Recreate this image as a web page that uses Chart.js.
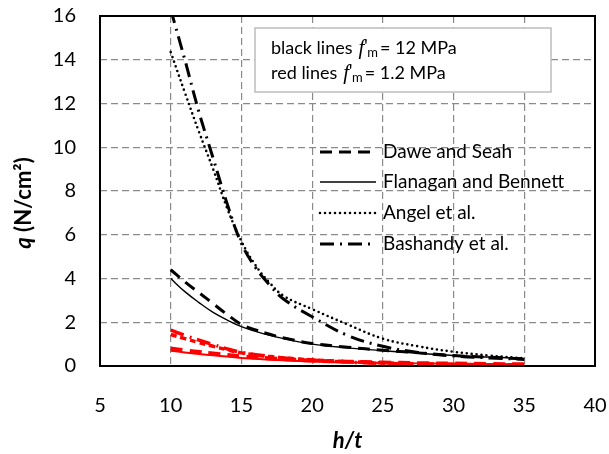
<!DOCTYPE html>
<html>
<head>
<meta charset="utf-8">
<script src="https://cdn.jsdelivr.net/npm/chart.js@4/dist/chart.umd.min.js"></script>
<style>
  html, body { margin: 0; padding: 0; background: #fff; }
  #wrap { width: 609px; height: 454px; }
</style>
</head>
<body>
<div id="wrap"><canvas id="chart" width="609" height="454"></canvas></div>
<script>
// h/t values where the curves were read
const xs = [10, 11, 12, 13, 14, 15, 16, 17, 18, 20, 22.5, 25, 27.5, 30, 32.5, 35];

// black lines, f'm = 12 MPa
const daweBlack      = [4.4, 3.85, 3.35, 2.85, 2.35, 1.9, 1.65, 1.45, 1.28, 1.03, 0.86, 0.72, 0.6, 0.48, 0.4, 0.33];
const flanaganBlack  = [4.0, 3.4, 2.9, 2.45, 2.1, 1.8, 1.58, 1.4, 1.25, 1.0, 0.83, 0.7, 0.58, 0.48, 0.41, 0.35];
const angelBlack     = [14.35, 12.5, 10.7, 9.0, 7.2, 5.7, 4.6, 3.8, 3.2, 2.6, 1.9, 1.25, 0.9, 0.65, 0.48, 0.35];
const bashandyBlack  = [16.3, 14.0, 11.6, 9.5, 7.4, 5.6, 4.5, 3.7, 3.05, 2.25, 1.4, 0.9, 0.62, 0.46, 0.37, 0.3];

// red lines, f'm = 1.2 MPa
const daweRed        = [0.8, 0.72, 0.64, 0.57, 0.5, 0.44, 0.39, 0.35, 0.31, 0.25, 0.2, 0.16, 0.13, 0.11, 0.09, 0.08];
const flanaganRed    = [0.7, 0.62, 0.55, 0.49, 0.43, 0.37, 0.33, 0.29, 0.26, 0.21, 0.17, 0.14, 0.12, 0.1, 0.08, 0.07];
const angelRed       = [1.44, 1.25, 1.07, 0.9, 0.74, 0.6, 0.5, 0.43, 0.37, 0.28, 0.2, 0.14, 0.1, 0.08, 0.06, 0.05];
const bashandyRed    = [1.64, 1.4, 1.18, 0.98, 0.78, 0.62, 0.52, 0.44, 0.37, 0.27, 0.18, 0.12, 0.09, 0.07, 0.05, 0.04];

const xTicks = [5, 10, 15, 20, 25, 30, 35, 40];
const yTicks = [0, 2, 4, 6, 8, 10, 12, 14, 16];

const legendNames = ["Dawe and Seah", "Flanagan and Bennett", "Angel et al.", "Bashandy et al."];
const boxLines = ["black lines", "red lines"];
const boxValues = ["= 12 MPa", "= 1.2 MPa"];

const FONT = "Lato, 'Open Sans', sans-serif";

const styles = {
    dawe:     { dash: [12, 7], width: 3, cap: "butt" },
    flanagan: { dash: [], width: 1.4, cap: "butt" },
    angel:    { dash: [0, 5], width: 2.6, cap: "round" },
    bashandy: { dash: [14, 6, 2, 6], width: 3, cap: "butt" }
};

function pts(arr) {
    return arr.map((y, i) => ({ x: xs[i], y }));
}

function ds(label, arr, color, st, width) {
    return {
        label,
        data: pts(arr),
        borderColor: color,
        borderWidth: width ?? st.width,
        borderDash: st.dash,
        borderCapStyle: st.cap,
        pointRadius: 0,
        tension: 0.4,
        fill: false,
        clip: 0
    };
}

const datasets = [
    ds("Dawe and Seah red", daweRed, "#ff0000", styles.dawe, 4),
    ds("Flanagan and Bennett red", flanaganRed, "#ff0000", styles.flanagan, 2),
    ds("Angel et al. red", angelRed, "#ff0000", { dash: [6, 4], width: 3.5, cap: "butt" }),
    ds("Bashandy et al. red", bashandyRed, "#ff0000", styles.bashandy, 3.5),
    ds("Dawe and Seah", daweBlack, "#000", styles.dawe),
    ds("Flanagan and Bennett", flanaganBlack, "#000", styles.flanagan),
    ds("Angel et al.", angelBlack, "#000", styles.angel),
    ds("Bashandy et al.", bashandyBlack, "#000", styles.bashandy)
];

const decor = {
    id: "decor",
    afterDraw(chart) {
        const ctx = chart.ctx;
        const a = chart.chartArea;
        ctx.save();

        // plot frame
        ctx.strokeStyle = "#000";
        ctx.lineWidth = 2;
        ctx.setLineDash([]);
        ctx.strokeRect(a.left, a.top, a.right - a.left, a.bottom - a.top);

        // info box
        ctx.fillStyle = "#fff";
        ctx.fillRect(255, 28, 296, 64);
        ctx.strokeStyle = "#bdbdbd";
        ctx.lineWidth = 1.5;
        ctx.strokeRect(255, 28, 296, 64);
        ctx.fillStyle = "#000";
        ctx.textBaseline = "middle";
        ctx.textAlign = "left";
        [48, 73].forEach((y, i) => {
            let x = 271;
            ctx.font = "18px " + FONT;
            ctx.fillText(boxLines[i], x, y);
            x += ctx.measureText(boxLines[i]).width + 6;
            ctx.font = "italic 21px 'Liberation Serif', serif";
            ctx.fillText("f", x, y);
            x += ctx.measureText("f").width;
            ctx.font = "16px " + FONT;
            ctx.fillText("'", x, y - 2);
            x += 3;
            ctx.font = "13px " + FONT;
            ctx.fillText("m", x, y + 5);
            x += ctx.measureText("m").width + 2;
            ctx.font = "18px " + FONT;
            ctx.fillText(boxValues[i], x, y);
        });

        // legend
        const rows = [152, 182, 213, 244];
        const keys = ["dawe", "flanagan", "angel", "bashandy"];
        rows.forEach((y, i) => {
            const st = styles[keys[i]];
            ctx.strokeStyle = "#000";
            ctx.lineWidth = st.width;
            ctx.lineCap = st.cap;
            ctx.setLineDash(st.dash);
            ctx.beginPath();
            ctx.moveTo(320, y);
            ctx.lineTo(376, y);
            ctx.stroke();
            ctx.setLineDash([]);
            ctx.lineCap = "butt";
            ctx.font = "19px " + FONT;
            ctx.fillStyle = "#000";
            ctx.fillText(legendNames[i], 383, y);
        });

        // axis titles
        ctx.textAlign = "center";
        ctx.font = "bold italic 22px " + FONT;
        ctx.fillText("h/t", (a.left + a.right) / 2, 441);

        ctx.translate(24, 203);
        ctx.rotate(-Math.PI / 2);
        ctx.textAlign = "left";
        const p1 = "q";
        const p2 = " (N/cm²)";
        ctx.font = "bold italic 22px " + FONT;
        const w1 = ctx.measureText(p1).width;
        ctx.font = "bold 22px " + FONT;
        const w2 = ctx.measureText(p2).width;
        let x0 = -(w1 + w2) / 2;
        ctx.font = "bold italic 22px " + FONT;
        ctx.fillText(p1, x0, 0);
        ctx.font = "bold 22px " + FONT;
        ctx.fillText(p2, x0 + w1, 0);

        ctx.restore();
    }
};

new Chart(document.getElementById("chart"), {
    type: "line",
    data: { datasets },
    options: {
        responsive: false,
        animation: false,
        layout: { padding: { top: 16, right: 14, left: 0, bottom: 0 } },
        plugins: { legend: { display: false }, tooltip: { enabled: false } },
        scales: {
            x: {
                type: "linear",
                min: xTicks[0],
                max: xTicks[xTicks.length - 1],
                afterBuildTicks: (s) => { s.ticks = xTicks.map(v => ({ value: v })); },
                afterFit: (s) => { s.height = 88; s.paddingLeft = 0; s.paddingRight = 0; },
                ticks: { color: "#000", font: { size: 20, family: FONT }, padding: 28, maxRotation: 0 },
                grid: { color: "#8a8a8a", lineWidth: 1.2, drawTicks: false },
                border: { display: false, dash: [7, 4] }
            },
            y: {
                type: "linear",
                min: yTicks[0],
                max: yTicks[yTicks.length - 1],
                afterBuildTicks: (s) => { s.ticks = yTicks.map(v => ({ value: v })); },
                afterFit: (s) => { s.width = 100; s.paddingTop = 0; s.paddingBottom = 0; },
                ticks: { color: "#000", font: { size: 20, family: FONT }, padding: 24 },
                grid: { color: "#8a8a8a", lineWidth: 1.2, drawTicks: false },
                border: { display: false, dash: [7, 4] }
            }
        }
    },
    plugins: [decor]
});
</script>
</body>
</html>
